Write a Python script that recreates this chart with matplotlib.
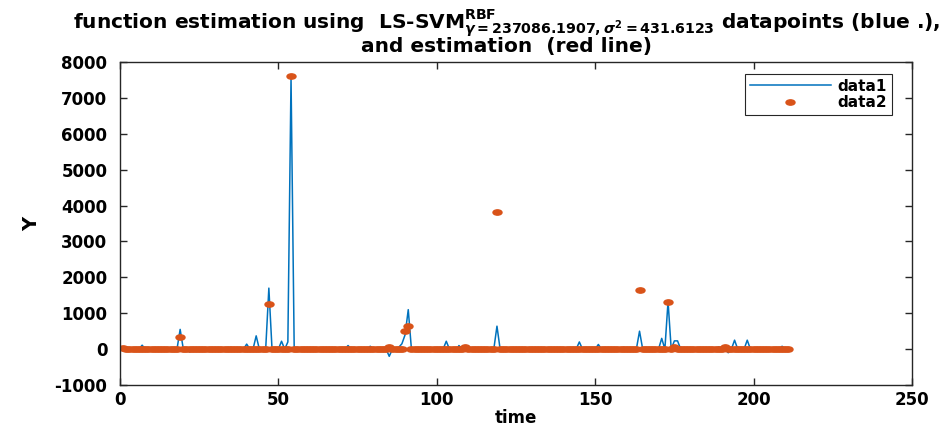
import numpy as np
import matplotlib.pyplot as plt
from matplotlib.path import Path
from matplotlib.transforms import Affine2D

# time axis: one sample per step
time = np.arange(1, 212)

# data1 (blue line): flat at zero except these points
blue_t = [7, 19, 22, 31, 35, 40, 43, 47, 51, 53, 54, 72, 79, 82, 85, 88, 89, 90, 91,
          103, 106, 107, 116, 119, 127, 136, 145, 151, 159, 164, 171, 173, 175, 176,
          184, 189, 192, 194, 198, 209]
blue_v = [110, 550, -80, 30, 50, 140, 370, 1700, 220, 200, 7560, 100, 80, 30, -200, 50, 150, 400, 1100,
          220, -60, 100, 30, 640, 30, 20, 200, 130, 50, 500, 300, 1330, 230, 230,
          -50, 60, -100, 250, 250, 80]

# data2 (red dots): flat at zero except these points
red_t = [1, 19, 47, 54, 85, 90, 91, 109, 119, 164, 173, 175, 191]
red_v = [30, 335, 1260, 7600, 50, 500, 650, 70, 3810, 1640, 1320, 60, 70]

xticks = [0, 50, 100, 150, 200, 250]
yticks = [-1000, 0, 1000, 2000, 3000, 4000, 5000, 6000, 7000, 8000]

data1 = np.zeros(len(time))
data1[np.array(blue_t) - 1] = blue_v
data2 = np.zeros(len(time))
data2[np.array(red_t) - 1] = red_v

plt.rcParams['font.family'] = 'DejaVu Sans'
plt.rcParams['font.weight'] = 'bold'
plt.rcParams['axes.titleweight'] = 'bold'
plt.rcParams['axes.labelweight'] = 'bold'
plt.rcParams['axes.unicode_minus'] = False
plt.rcParams['mathtext.fontset'] = 'custom'
plt.rcParams['mathtext.rm'] = 'DejaVu Sans:bold'
plt.rcParams['mathtext.bf'] = 'DejaVu Sans:bold'
plt.rcParams['mathtext.it'] = 'DejaVu Sans:italic:bold'

blue = '#0072BD'
red = '#D95319'
axcol = '#262626'

# wide dot like the stretched matlab marker
ell = Path.unit_circle().transformed(Affine2D().scale(1.7, 1.0))

fig = plt.figure(figsize=(9.49, 4.26), dpi=100)
ax = fig.add_axes([0.1264, 0.0962, 0.8346, 0.7582])

ax.plot(time, data1, color=blue, lw=1.1, label='data1')
ax.plot(time, data2, ls='none', marker=ell, ms=6.5, color=red, mec=red, label='data2')

ax.set_xlim(0, 250)
ax.set_ylim(-1000, 8000)
ax.set_xticks(xticks)
ax.set_yticks(yticks)

for s in ax.spines.values():
    s.set_color(axcol)
    s.set_linewidth(1.0)
ax.tick_params(direction='in', top=True, right=True, length=5, width=1,
               color=axcol, labelsize=12)
ax.tick_params(axis='y', pad=9)
ax.tick_params(axis='x', pad=4)

ax.set_xlabel('time', fontsize=12, labelpad=0)
ax.set_ylabel('Y', fontsize=14, labelpad=10)

title = ('function estimation using  LS-SVM$^{\\mathrm{RBF}}_{\\gamma=237086.1907,\\sigma^2=431.6123}$'
         ' datapoints (blue .),\nand estimation  (red line)')
ax.set_title(title, fontsize=14.5, pad=7, linespacing=0.85, x=0.488)

leg = ax.legend(loc='upper right', bbox_to_anchor=(0.9747, 0.9628), borderaxespad=0,
                fontsize=11, handlelength=5.3, handletextpad=0.45, borderpad=0.3,
                labelspacing=0.1, fancybox=False, framealpha=1)
leg.get_frame().set_edgecolor(axcol)
leg.get_frame().set_linewidth(0.8)

fig.savefig('out.png', dpi=100)
